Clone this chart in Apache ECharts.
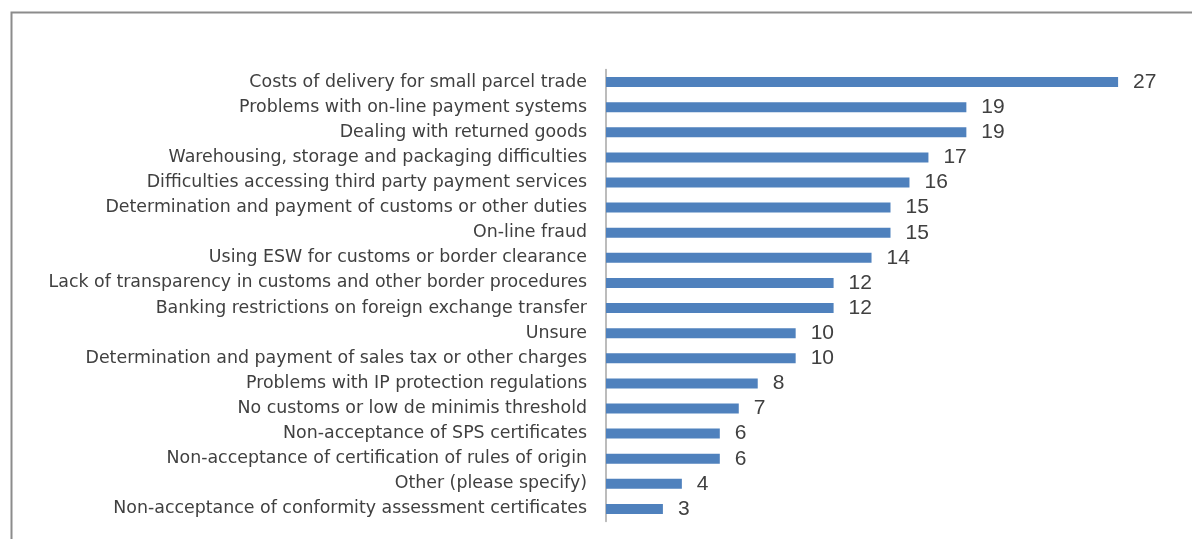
<!DOCTYPE html>
<html>
<head>
<meta charset="utf-8">
<script src="https://cdn.jsdelivr.net/npm/echarts@6/dist/echarts.min.js"></script>
<style>
html,body{margin:0;padding:0;background:#fff;}
#chart{width:1192px;height:539px;}
</style>
</head>
<body>
<div id="chart"></div>
<script>
const categories = [
  "Costs of delivery for small parcel trade",
  "Problems with on-line payment systems",
  "Dealing with returned goods",
  "Warehousing, storage and packaging difficulties",
  "Difficulties accessing third party payment services",
  "Determination and payment of customs or other duties",
  "On-line fraud",
  "Using ESW for customs or border clearance",
  "Lack of transparency in customs and other border procedures",
  "Banking restrictions on foreign exchange transfer",
  "Unsure",
  "Determination and payment of sales tax or other charges",
  "Problems with IP protection regulations",
  "No customs or low de minimis threshold",
  "Non-acceptance of SPS certificates",
  "Non-acceptance of certification of rules of origin",
  "Other (please specify)",
  "Non-acceptance of conformity assessment certificates"
];
const values = [27, 19, 19, 17, 16, 15, 15, 14, 12, 12, 10, 10, 8, 7, 6, 6, 4, 3];

const chart = echarts.init(document.getElementById('chart'));
chart.setOption({
  animation: false,
  graphic: [{
    type: 'rect',
    shape: {x: 11.5, y: 12.5, width: 1300, height: 700},
    style: {fill: 'none', stroke: '#8c8c8c', lineWidth: 2},
    silent: true
  }],
  grid: {left: 606, top: 69.5, width: 569, height: 452, containLabel: false},
  xAxis: {
    type: 'value', min: 0, max: 30, show: false
  },
  yAxis: {
    type: 'category', data: categories, inverse: true,
    axisLine: {show: true, lineStyle: {color: '#a6a6a6', width: 1.5}},
    axisTick: {show: false},
    axisLabel: {
      color: '#404040', fontSize: 17.4, fontFamily: 'DejaVu Sans, sans-serif',
      margin: 19
    }
  },
  series: [{
    type: 'bar', data: values, barWidth: 10,
    itemStyle: {color: '#4f81bd'},
    label: {
      show: true, position: 'right', distance: 15,
      color: '#404040', fontSize: 21, fontFamily: 'Liberation Sans, Arial, sans-serif'
    }
  }]
});
</script>
</body>
</html>
